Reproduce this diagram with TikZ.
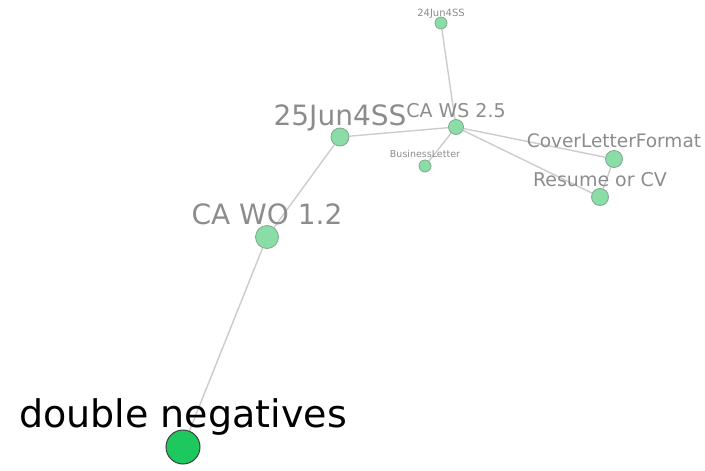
\documentclass[tikz,border=0pt]{standalone}
\usepackage{fontspec}
\setmainfont{DejaVu Sans}
\usetikzlibrary{backgrounds}

\definecolor{nodegreen}{HTML}{8ADDA6}
\definecolor{nodeedge}{HTML}{7FA88C}
\definecolor{biggreen}{HTML}{1DC95F}
\definecolor{linkgray}{HTML}{CCCCCC}
\definecolor{labelgray}{HTML}{8C8C8C}

\begin{document}
\begin{tikzpicture}[x=1pt,y=-1pt,
     vertex/.style = {draw=nodeedge, fill=nodegreen, circle, inner sep=0pt, line width=0.8pt},
     hub/.style = {draw=black!75, fill=biggreen, circle, inner sep=0pt, line width=1pt},
     lbl/.style = {anchor=base, text=labelgray, inner sep=0pt},
     link/.style = {draw=linkgray, line width=1.4pt}
    ]
    \useasboundingbox (0,0) rectangle (705,471);

    \node [vertex, minimum size=12pt, label={[lbl, font=\fontsize{10}{10}\selectfont, label distance=0pt]90:24Jun4SS}] (jun24) at (441,23) {};
    \node [vertex, minimum size=15pt, label={[lbl, font=\fontsize{19}{19}\selectfont, label distance=2pt]90:CA WS 2.5}] (caws) at (456,127) {};
    \node [vertex, minimum size=12pt, label={[lbl, font=\fontsize{9.5}{9.5}\selectfont, label distance=2pt]90:BusinessLetter}] (bletter) at (425,166) {};
    \node [vertex, minimum size=17pt, label={[lbl, font=\fontsize{18.5}{18.5}\selectfont, label distance=3pt]90:CoverLetterFormat}] (cover) at (614,159) {};
    \node [vertex, minimum size=17pt, label={[lbl, font=\fontsize{19}{19}\selectfont, label distance=2pt]90:Resume or CV}] (resume) at (600,197) {};
    \node [vertex, minimum size=18pt, label={[lbl, font=\fontsize{28}{28}\selectfont, label distance=2pt]90:25Jun4SS}] (jun25) at (340,137) {};
    \node [vertex, minimum size=23pt, label={[lbl, font=\fontsize{28}{28}\selectfont, label distance=1pt]90:CA WO 1.2}] (cawo) at (267,237) {};
    \node [hub, minimum size=34pt, label={[lbl, text=black, font=\fontsize{38}{38}\selectfont, label distance=2pt]90:double negatives}] (dneg) at (183,447) {};

    \begin{scope}[on background layer]
    \draw [link] (jun24) -- (caws);
    \draw [link] (caws) -- (jun25);
    \draw [link] (caws) -- (bletter);
    \draw [link] (caws) -- (cover);
    \draw [link] (caws) -- (resume);
    \draw [link] (cover) -- (resume);
    \draw [link] (jun25) -- (cawo);
    \draw [link] (cawo) -- (dneg);
    \end{scope}
\end{tikzpicture}
\end{document}
